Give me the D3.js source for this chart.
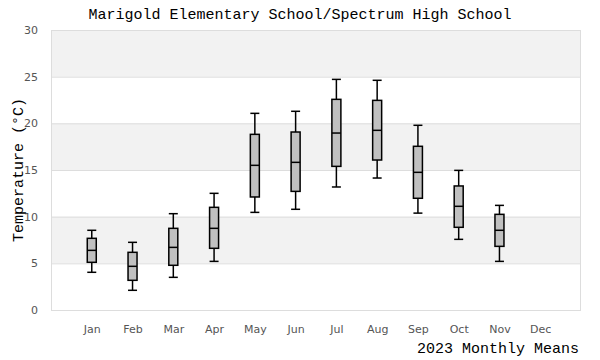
<!DOCTYPE html>
<html>
<head>
<meta charset="utf-8">
<script src="https://cdn.jsdelivr.net/npm/d3@7"></script>
<style>
  html, body { margin: 0; padding: 0; background: #fff; }
  svg { display: block; }
</style>
</head>
<body>
<svg id="chart" width="600" height="360"></svg>
<script>
const months = ["Jan","Feb","Mar","Apr","May","Jun","Jul","Aug","Sep","Oct","Nov","Dec"];
const mins    = [4.04, 2.11, 3.50, 5.21, 10.46, 10.79, 13.18, 14.14, 10.38, 7.57, 5.21, null];
const q1s     = [5.11, 3.18, 4.79, 6.61, 12.11, 12.71, 15.39, 16.07, 11.97, 8.86, 6.82, null];
const medians = [6.39, 4.68, 6.71, 8.75, 15.50, 15.82, 18.96, 19.25, 14.75, 11.11, 8.54, null];
const q3s     = [7.68, 6.18, 8.75, 11.00, 18.82, 19.07, 22.57, 22.46, 17.54, 13.29, 10.25, null];
const maxs    = [8.54, 7.25, 10.32, 12.50, 21.07, 21.29, 24.71, 24.61, 19.79, 14.96, 11.21, null];
const yTicks  = [0, 5, 10, 15, 20, 25, 30];
const title = "Marigold Elementary School/Spectrum High School";
const xTitle = "2023 Monthly Means";
const yTitle = "Temperature (°C)";

const data = months.map((m, i) => ({
  month: m, min: mins[i], q1: q1s[i], median: medians[i], q3: q3s[i], max: maxs[i]
}));

const svg = d3.select("#chart");
const margin = {left: 51, right: 19, top: 30, bottom: 50};
const W = 600, H = 360;
const x0 = margin.left, x1 = W - margin.right, y0 = H - margin.bottom, y1 = margin.top;

const x = d3.scalePoint().domain(months).range([x0, x1]).padding(1);
const y = d3.scaleLinear().domain([0, 30]).range([y0, y1]);

const mono = "'Liberation Mono', monospace";
const sans = "'DejaVu Sans', sans-serif";

// alternating bands
const bands = [[5,10],[15,20],[25,30]];
svg.append("g").selectAll("rect").data(bands).join("rect")
  .attr("x", x0).attr("width", x1 - x0)
  .attr("y", d => y(d[1])).attr("height", d => y(d[0]) - y(d[1]))
  .attr("fill", "#f2f2f2");

// grid lines
svg.append("g").selectAll("line").data(yTicks).join("line")
  .attr("x1", x0).attr("x2", x1)
  .attr("y1", d => y(d) + 0.5).attr("y2", d => y(d) + 0.5)
  .attr("stroke", "#dddddd").attr("stroke-width", 1);

// frame
svg.append("rect")
  .attr("x", x0 + 0.5).attr("y", y1 + 0.5)
  .attr("width", x1 - x0 - 1).attr("height", y0 - y1)
  .attr("fill", "none").attr("stroke", "#dddddd");

// y axis labels
const yAxis = d3.axisLeft(y).tickValues(yTicks).tickSize(0).tickPadding(13);
const gy = svg.append("g").attr("transform", `translate(${x0},0)`).call(yAxis);
gy.select(".domain").remove();
gy.selectAll("text").attr("font-family", sans).attr("font-size", 11).attr("fill", "#555");

// x axis labels
const xAxis = d3.axisBottom(x).tickSize(0).tickPadding(15);
const gx = svg.append("g").attr("transform", `translate(0,${y0})`).call(xAxis);
gx.select(".domain").remove();
gx.selectAll("text").attr("font-family", sans).attr("font-size", 11).attr("fill", "#555");

// boxes
const bw = 9;
const present = data.filter(d => d.median !== null);
const g = svg.append("g").attr("stroke", "#000").attr("stroke-width", 1.5);
const bx = g.selectAll("g.box").data(present).join("g").attr("class", "box");
bx.append("line")
  .attr("x1", d => x(d.month)).attr("x2", d => x(d.month))
  .attr("y1", d => y(d.min)).attr("y2", d => y(d.max));
bx.append("line")
  .attr("x1", d => x(d.month) - bw/2).attr("x2", d => x(d.month) + bw/2)
  .attr("y1", d => y(d.min)).attr("y2", d => y(d.min));
bx.append("line")
  .attr("x1", d => x(d.month) - bw/2).attr("x2", d => x(d.month) + bw/2)
  .attr("y1", d => y(d.max)).attr("y2", d => y(d.max));
bx.append("rect")
  .attr("x", d => x(d.month) - bw/2).attr("width", bw)
  .attr("y", d => y(d.q3)).attr("height", d => y(d.q1) - y(d.q3))
  .attr("fill", "#c0c0c0");
bx.append("line")
  .attr("x1", d => x(d.month) - bw/2).attr("x2", d => x(d.month) + bw/2)
  .attr("y1", d => y(d.median)).attr("y2", d => y(d.median));

// titles
svg.append("text").attr("x", 300).attr("y", 19).attr("text-anchor", "middle")
  .attr("font-family", mono).attr("font-size", 15).attr("fill", "#000").text(title);
svg.append("text").attr("x", 579).attr("y", 353).attr("text-anchor", "end")
  .attr("font-family", mono).attr("font-size", 15).attr("fill", "#000").text(xTitle);
svg.append("text").attr("transform", `translate(23,${(y0 + y1) / 2}) rotate(-90)`)
  .attr("text-anchor", "middle")
  .attr("font-family", mono).attr("font-size", 15).attr("fill", "#000").text(yTitle);
</script>
</body>
</html>
